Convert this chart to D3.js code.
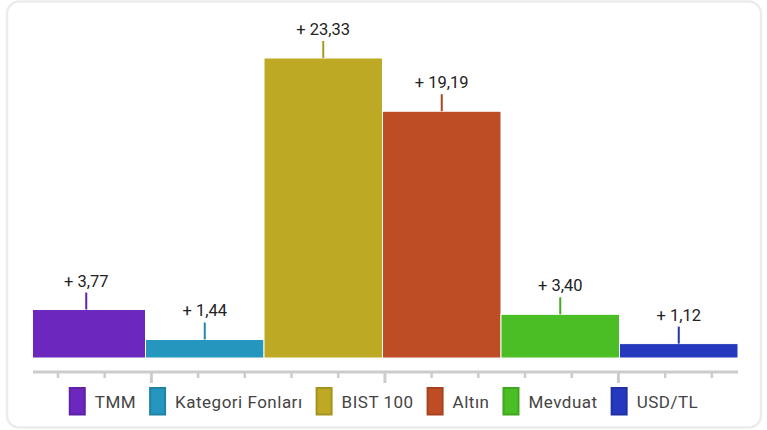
<!DOCTYPE html>
<html>
<head>
<meta charset="utf-8">
<script src="https://cdn.jsdelivr.net/npm/d3@7"></script>
<style>
  html, body { margin: 0; padding: 0; background: #fff; }
  svg { display: block; font-family: Roboto, "Noto Sans", sans-serif; }
</style>
</head>
<body>
<div id="chart"></div>
<script>
// data
const categories = ['TMM', 'Kategori Fonları', 'BIST 100', 'Altın', 'Mevduat', 'USD/TL'];
const values = [3.77, 1.44, 23.33, 19.19, 3.40, 1.12];
const colors = ['#6b27be', '#2596be', '#bea925', '#be4d25', '#4bbe25', '#2538be'];
const axisTicks = [0, 1, 2, 3, 4, 5, 6, 7, 8, 9, 10, 11, 12, 13, 14];
const majorTicks = [2, 7, 12];

const width = 767, height = 430;
const margin = { left: 27, right: 29, top: 58, bottom: 72 };
const plotLeft = 33;

const svg = d3.select('#chart')
  .append('svg')
  .attr('width', width)
  .attr('height', height);

// card frame
svg.append('rect')
  .attr('x', 7).attr('y', 1.5)
  .attr('width', 754).attr('height', 426)
  .attr('rx', 12)
  .attr('fill', '#fff')
  .attr('stroke', '#ececec')
  .attr('stroke-width', 2.5);

// scales
const x = d3.scaleBand()
  .domain(categories)
  .range([margin.left, width - margin.right])
  .padding(0);

const y = d3.scaleLinear()
  .domain([0, d3.max(values)])
  .range([height - margin.bottom, margin.top]);

const xTicks = d3.scaleLinear()
  .domain([-0.535, 14.56])
  .range([plotLeft, width - margin.right]);

const fmt = v => '+ ' + d3.format('.2f')(v).replace('.', ',');

svg.append('clipPath')
  .attr('id', 'plot-clip')
  .append('rect')
  .attr('x', plotLeft)
  .attr('y', 0)
  .attr('width', width - margin.right - plotLeft)
  .attr('height', height);

// bars
svg.append('g')
  .attr('clip-path', 'url(#plot-clip)')
  .selectAll('rect')
  .data(values)
  .join('rect')
  .attr('x', (d, i) => x(categories[i]))
  .attr('y', d => y(d))
  .attr('width', x.bandwidth())
  .attr('height', d => y(0) - y(d))
  .attr('fill', (d, i) => colors[i])
  .attr('stroke', '#fff')
  .attr('stroke-width', 1);

// leader lines
svg.append('g')
  .selectAll('line')
  .data(values)
  .join('line')
  .attr('x1', (d, i) => x(categories[i]) + x.bandwidth() / 2)
  .attr('x2', (d, i) => x(categories[i]) + x.bandwidth() / 2)
  .attr('y1', d => y(d))
  .attr('y2', d => y(d) - 17)
  .attr('stroke', (d, i) => d3.color(colors[i]).darker(0.3))
  .attr('stroke-width', 2);

// value labels
svg.append('g')
  .selectAll('text')
  .data(values)
  .join('text')
  .attr('x', (d, i) => x(categories[i]) + x.bandwidth() / 2)
  .attr('y', d => y(d) - 23)
  .attr('text-anchor', 'middle')
  .style('font-size', '16.5px')
  .attr('fill', '#222')
  .text(d => fmt(d));

// bottom axis (no labels)
const axisY = 372;
svg.append('line')
  .attr('x1', plotLeft).attr('x2', width - margin.right)
  .attr('y1', axisY).attr('y2', axisY)
  .attr('stroke', '#cccccc')
  .attr('stroke-width', 3);

svg.append('g')
  .selectAll('line')
  .data(axisTicks)
  .join('line')
  .attr('x1', d => xTicks(d))
  .attr('x2', d => xTicks(d))
  .attr('y1', axisY)
  .attr('y2', d => majorTicks.includes(d) ? axisY + 11 : axisY + 6)
  .attr('stroke', '#cccccc')
  .attr('stroke-width', d => majorTicks.includes(d) ? 3 : 2.5);

// legend
const legend = svg.append('g');
const items = legend.selectAll('g')
  .data(categories)
  .join('g');

items.append('rect')
  .attr('x', 1).attr('y', 388)
  .attr('width', 15).attr('height', 26.5)
  .attr('fill', (d, i) => colors[i])
  .attr('stroke', (d, i) => d3.color(colors[i]).darker(0.4))
  .attr('stroke-width', 2);

items.append('text')
  .attr('x', 26)
  .attr('y', 407.5)
  .style('font-size', '17px')
  .style('letter-spacing', '0.5px')
  .attr('fill', '#444')
  .text(d => d);

const gap = 13;
let cursor = 0;
items.each(function () {
  const w = this.querySelector('text').getComputedTextLength();
  d3.select(this).attr('transform', `translate(${cursor},0)`);
  cursor += 26 + w + gap;
});
const legendWidth = cursor - gap;
legend.attr('transform', `translate(${(width - legendWidth) / 2},0)`);
</script>
</body>
</html>
